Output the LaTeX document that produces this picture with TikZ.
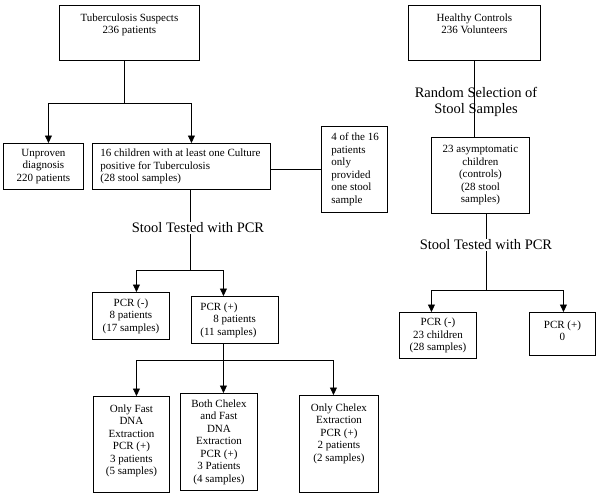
\documentclass[tikz,border=0pt]{standalone}
\usepackage{fontspec}
\setmainfont{Liberation Serif}
\usetikzlibrary{arrows.meta}
\newcommand\mkC[3]{\parbox[c][#2pt][c]{#1pt}{\centering #3}}
\newcommand\mkT[3]{\parbox[c][#2pt][t]{#1pt}{\centering\rule{0pt}{16pt}#3}}
\newcommand\mkL[4]{\parbox[c][#2pt][c]{#1pt}{\raggedright\leftskip=#3pt #4}}
\begin{document}
\begin{tikzpicture}[x=1pt,y=-1pt,
  box/.style={draw, line width=0.9pt, inner sep=0pt, anchor=north west, font=\fontsize{11}{12.5}\selectfont},
  lbl/.style={font=\fontsize{14.5}{16}\selectfont, align=center, inner sep=1pt},
  con/.style={line width=0.9pt},
  arr/.style={con, -{Triangle[length=7.5pt,width=7pt]}}]
\useasboundingbox (0,0) rectangle (600,498);
% boxes
\node[box] (tb) at (59,5) {\mkT{140}{55}{Tuberculosis Suspects\\236 patients}};
\node[box] (unp) at (3,143) {\mkC{80}{46}{Unproven\\diagnosis\\220 patients}};
\node[box] (c16) at (92,143) {\mkL{178}{46}{8}{16 children with at least one Culture\\positive for Tuberculosis\\(28 stool samples)}};
\node[box] (four) at (321,126) {\mkL{66}{86}{10}{4 of the 16\\patients\\only\\provided\\one stool\\sample}};
\node[box] (hc) at (408,5) {\mkT{132}{55}{Healthy Controls\\236 Volunteers}};
\node[box] (asym) at (431,137) {\mkC{98}{76}{23 asymptomatic\\children\\(controls)\\(28 stool\\samples)}};
\node[box] (pn1) at (92,292) {\mkC{77}{47}{PCR (-)\\8 patients\\(17 samples)}};
\node[box] (pp1) at (191,296) {\mkL{87}{47}{9}{PCR (+)\\\hspace*{13pt}8 patients\\(11 samples)}};
\node[box] (pn2) at (399,312) {\mkC{77}{46}{PCR (-)\\23 children\\(28 samples)}};
\node[box] (pp2) at (529,312) {\mkT{66}{43}{PCR (+)\\0}};
\node[box] (of) at (93,396) {\mkT{76}{96}{Only Fast\\DNA\\Extraction\\PCR (+)\\3 patients\\(5 samples)}};
\node[box] (both) at (180,393) {\mkC{77}{97}{Both Chelex\\and Fast\\DNA\\Extraction\\PCR (+)\\3 Patients\\(4 samples)}};
\node[box] (oc) at (299,395) {\mkT{79}{97}{Only Chelex\\Extraction\\PCR (+)\\2 patients\\(2 samples)}};
% connectors
\draw[con] ([xshift=-5pt]tb.south) -- ++(0,43) coordinate (j1);
\draw[arr] (j1) -| ([xshift=5pt]unp.north);
\draw[arr] (j1) -| ([xshift=10pt]c16.north);
\draw[con] (c16.east |- four.west) -- (four.west);
\draw[con] ([xshift=9pt]c16.south) -- ++(0,81) coordinate (j2);
\draw[arr] (j2) -| ([xshift=5.5pt]pn1.north);
\draw[arr] (j2) -| ([xshift=-11.5pt]pp1.north);
\draw[con] ([xshift=-11.5pt]pp1.south) -- ++(0,17) coordinate (j3);
\draw[arr] (j3) -| ([xshift=5pt]of.north);
\draw[arr] (j3) -| ([xshift=4.5pt]both.north);
\draw[arr] (j3) -| ([xshift=-5.5pt]oc.north);
\draw[con] (hc.south) -- (hc.south |- asym.north);
\draw[con] ([xshift=6pt]asym.south) -- ++(0,77) coordinate (j4);
\draw[arr] (j4) -| ([xshift=-6.5pt]pn2.north);
\draw[arr] (j4) -| ([xshift=1pt]pp2.north);
% labels
\node[lbl, fill=white] (st1) at (198,228) {Stool Tested with PCR};
\node[lbl] (rs) at (476,102) {Random Selection of\\Stool Samples};
\node[lbl, fill=white] (st2) at (486,245) {Stool Tested with PCR};
\end{tikzpicture}
\end{document}
